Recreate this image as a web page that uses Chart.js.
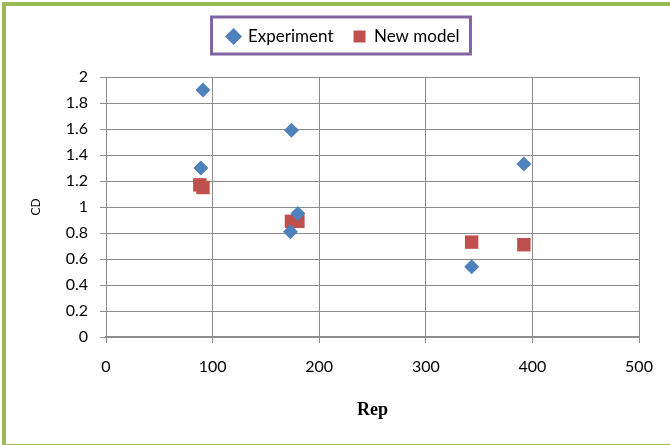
<!DOCTYPE html>
<html>
<head>
<meta charset="utf-8">
<script src="https://cdn.jsdelivr.net/npm/chart.js@4"></script>
<style>
    body { margin: 0; background: #fff; }
    #wrap { position: relative; width: 670px; height: 445px; }
    #frame {
        position: absolute; left: 2px; top: 2px; width: 700px; height: 438px;
        border-left: 4px solid #9BBB59; border-top: 4px solid #9BBB59; border-bottom: 4px solid #9BBB59;
        pointer-events: none;
    }
</style>
</head>
<body>
<div id="wrap">
    <canvas id="cdChart" width="670" height="445"></canvas>
    <div id="frame"></div>
</div>
<script>
// Experiment points (Rep, Cd)
const expRep = [91, 89, 174, 180, 173, 343, 392];
const expCd = [1.9, 1.3, 1.59, 0.95, 0.81, 0.54, 1.33];

// New model points
const modelRep = [88, 91, 174, 180, 343, 392];
const modelCd = [1.17, 1.15, 0.89, 0.89, 0.73, 0.71];

const xTicks = [0, 100, 200, 300, 400, 500];
const yTicks = [0, 0.2, 0.4, 0.6, 0.8, 1, 1.2, 1.4, 1.6, 1.8, 2];

const LEGEND_SHIFT = 9;

function toPoints(xs, ys) {
    return xs.map((x, i) => ({ x: x, y: ys[i] }));
}

// legend: extra room below it, nudge it right, and draw the purple box
const legendBox = {
    id: 'legendBox',
    afterInit(chart) {
        const lg = chart.legend;
        const fit = lg.fit;
        lg.fit = function () {
            fit.call(this);
            this.height += 22;
        };
        const draw = lg.draw;
        lg.draw = function () {
            this.ctx.save();
            this.ctx.translate(LEGEND_SHIFT, 0);
            draw.call(this);
            this.ctx.restore();
        };
    },
    afterDraw(chart) {
        const lg = chart.legend;
        if (!lg || !lg.legendHitBoxes.length) return;
        const first = lg.legendHitBoxes[0];
        const last = lg.legendHitBoxes[lg.legendHitBoxes.length - 1];
        const ctx = chart.ctx;
        ctx.save();
        ctx.strokeStyle = '#8064A2';
        ctx.lineWidth = 3;
        ctx.strokeRect(first.left - 16 + LEGEND_SHIFT, first.top - 11,
            last.left + last.width - first.left + 27, 37);
        ctx.restore();
    }
};

const gridColor = '#8c8c8c';

new Chart(document.getElementById('cdChart'), {
    type: 'scatter',
    data: {
        datasets: [{
            label: 'Experiment',
            data: toPoints(expRep, expCd),
            pointStyle: 'rectRot',
            pointRadius: 7.5,
            pointHoverRadius: 7.5,
            backgroundColor: '#4F81BD',
            borderColor: '#4F81BD',
            borderWidth: 0
        }, {
            label: 'New model',
            data: toPoints(modelRep, modelCd),
            pointStyle: 'rect',
            pointRadius: 9.5,
            pointHoverRadius: 9.5,
            backgroundColor: '#C0504D',
            borderColor: '#C0504D',
            borderWidth: 0
        }]
    },
    options: {
        responsive: false,
        animation: false,
        layout: { padding: { left: 30, right: 31, top: 8, bottom: 20 } },
        plugins: {
            tooltip: { enabled: false },
            legend: {
                position: 'top',
                labels: {
                    usePointStyle: true,
                    boxWidth: 12,
                    boxHeight: 12,
                    padding: 20,
                    color: '#000',
                    font: { family: 'Lato', size: 17 }
                }
            }
        },
        scales: {
            x: {
                type: 'linear',
                min: 0,
                max: 500,
                afterBuildTicks: axis => { axis.ticks = xTicks.map(v => ({ value: v })); },
                afterFit: axis => { axis.height = 88; },
                border: { color: gridColor, width: 2 },
                grid: { color: gridColor, tickLength: 6, lineWidth: 1 },
                ticks: { color: '#000', padding: 14, font: { family: 'Lato', size: 16 } },
                title: {
                    display: true,
                    text: 'Rep',
                    color: '#000',
                    padding: { top: 12 },
                    font: { family: 'Liberation Serif', size: 18, weight: 'bold' }
                }
            },
            y: {
                min: 0,
                max: 2,
                afterBuildTicks: axis => { axis.ticks = yTicks.map(v => ({ value: v })); },
                afterFit: axis => { axis.width = 76; },
                border: { color: gridColor, width: 1 },
                grid: { color: gridColor, tickLength: 6, lineWidth: 1 },
                ticks: {
                    color: '#000',
                    padding: 12,
                    font: { family: 'Lato', size: 16 },
                    callback: v => String(Number(v.toFixed(1)))
                },
                title: {
                    display: true,
                    text: 'CD',
                    color: '#000',
                    padding: { bottom: 0, top: 0 },
                    font: { family: 'DejaVu Sans', size: 12 }
                }
            }
        }
    },
    plugins: [legendBox]
});
</script>
</body>
</html>
